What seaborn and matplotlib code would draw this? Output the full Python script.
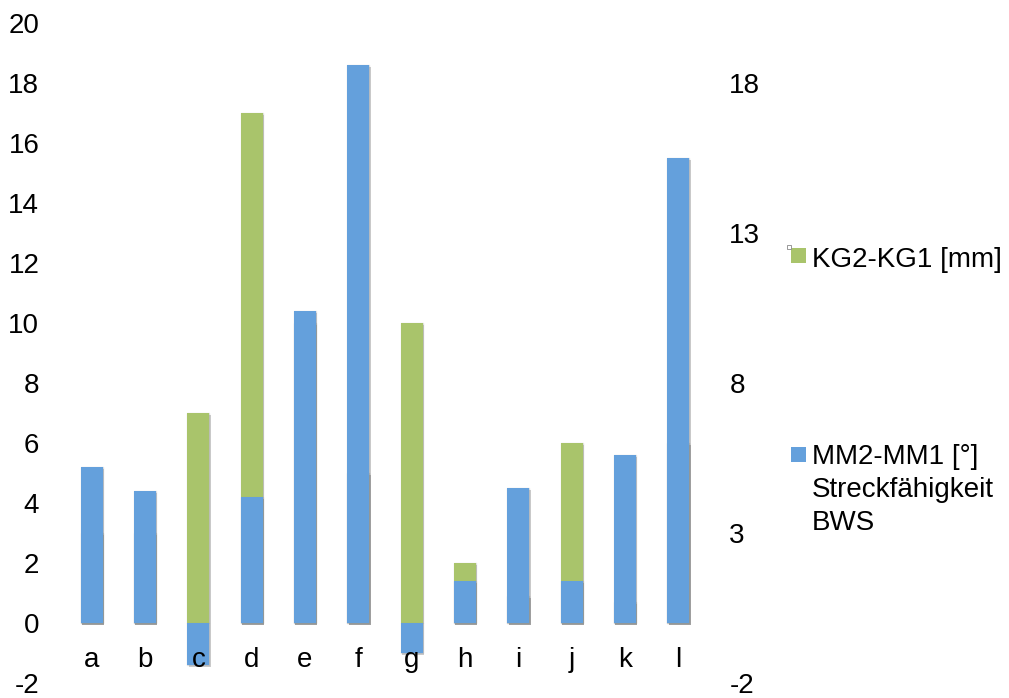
import matplotlib
matplotlib.use("Agg")
import matplotlib.pyplot as plt
import matplotlib.patheffects as pe
from matplotlib.patches import Rectangle
import seaborn as sns

categories = ["a", "b", "c", "d", "e", "f", "g", "h", "i", "j", "k", "l"]
kg_diff = [3, 3, 7, 17, 10, 5, 10, 2, 0.9, 6, 0.7, 6]          # KG2-KG1 [mm]
mm_diff = [5.2, 4.4, -1.4, 4.2, 10.4, 18.6, -1.0, 1.4, 4.5, 1.4, 5.6, 15.5]  # MM2-MM1 [°]
left_ticks = list(range(-2, 21, 2))
right_ticks = [-2, 3, 8, 13, 18]

green = "#A9C46B"
blue = "#64A0DC"

sns.set_theme(style="white")
plt.rcParams["font.family"] = ["Liberation Sans", "DejaVu Sans"]
plt.rcParams["text.color"] = "black"

fig = plt.figure(figsize=(10.09, 6.98), dpi=100)
ax = fig.add_axes([65 / 1009, 15 / 698, 640 / 1009, 660 / 698])

shadow = [pe.SimplePatchShadow(offset=(1.0, -1.5), shadow_rgbFace="black", alpha=0.2),
          pe.Stroke(linewidth=1.0, foreground="#9a9a9a", alpha=0.25),
          pe.Normal()]

sns.barplot(x=categories, y=kg_diff, color=green, saturation=1, width=0.41, ax=ax)
for p in ax.patches:
    p.set_path_effects(shadow)
    p.set_edgecolor("none")

ax2 = ax.twinx()
sns.barplot(x=categories, y=mm_diff, color=blue, saturation=1, width=0.41, ax=ax2)
for p in ax2.patches:
    p.set_path_effects(shadow)
    p.set_edgecolor("none")
    p.set_zorder(1)

for a in (ax, ax2):
    a.set_ylim(-2, 20)
    a.set_xlim(-0.5, len(categories) - 0.5)
    a.set_ylabel("")
    a.set_xlabel("")
    for s in a.spines.values():
        s.set_visible(False)
    a.grid(False)
    a.set_facecolor("none")

ax.set_yticks(left_ticks)
ax.set_yticklabels([str(t) for t in left_ticks])
ax.tick_params(axis="y", length=0, pad=18.5, labelsize=20, colors="black")
ax2.set_yticks(right_ticks)
ax2.set_yticklabels([str(t) for t in right_ticks])
ax2.tick_params(axis="y", length=0, pad=17.5, labelsize=20, colors="black")

# category labels sit just under the zero line, drawn above all bars
ax.tick_params(axis="x", bottom=False, labelbottom=False)
ax2.xaxis.set_visible(True)
ax2.set_xticks(range(len(categories)))
ax2.set_xticklabels(categories)
ax2.spines["bottom"].set_position(("data", 0))
ax2.tick_params(axis="x", bottom=True, labelbottom=True, top=False, labeltop=False,
                length=0, pad=17, labelsize=20, colors="black")
ax2.xaxis.set_zorder(10)
for lbl in ax2.get_xticklabels():
    lbl.set_zorder(10)

# legend
fig.patches.append(Rectangle((791 / 1009, 1 - 263 / 698), 15 / 1009, 15 / 698,
                             transform=fig.transFigure, facecolor=green, edgecolor="none"))
fig.patches.append(Rectangle((787 / 1009, 1 - 249 / 698), 4 / 1009, 4 / 698,
                             transform=fig.transFigure, facecolor="white",
                             edgecolor="#888888", linewidth=0.6))
fig.text(812 / 1009, 1 - 260 / 698, "KG2-KG1 [mm]", fontsize=20, va="center", ha="left")
fig.patches.append(Rectangle((791 / 1009, 1 - 462 / 698), 15 / 1009, 15 / 698,
                             transform=fig.transFigure, facecolor=blue, edgecolor="none"))
fig.text(812 / 1009, 1 - 444 / 698, "MM2-MM1 [°]\nStreckfähigkeit\nBWS", fontsize=20,
         va="top", ha="left", linespacing=1.34)

fig.savefig("out.png", dpi=100)
